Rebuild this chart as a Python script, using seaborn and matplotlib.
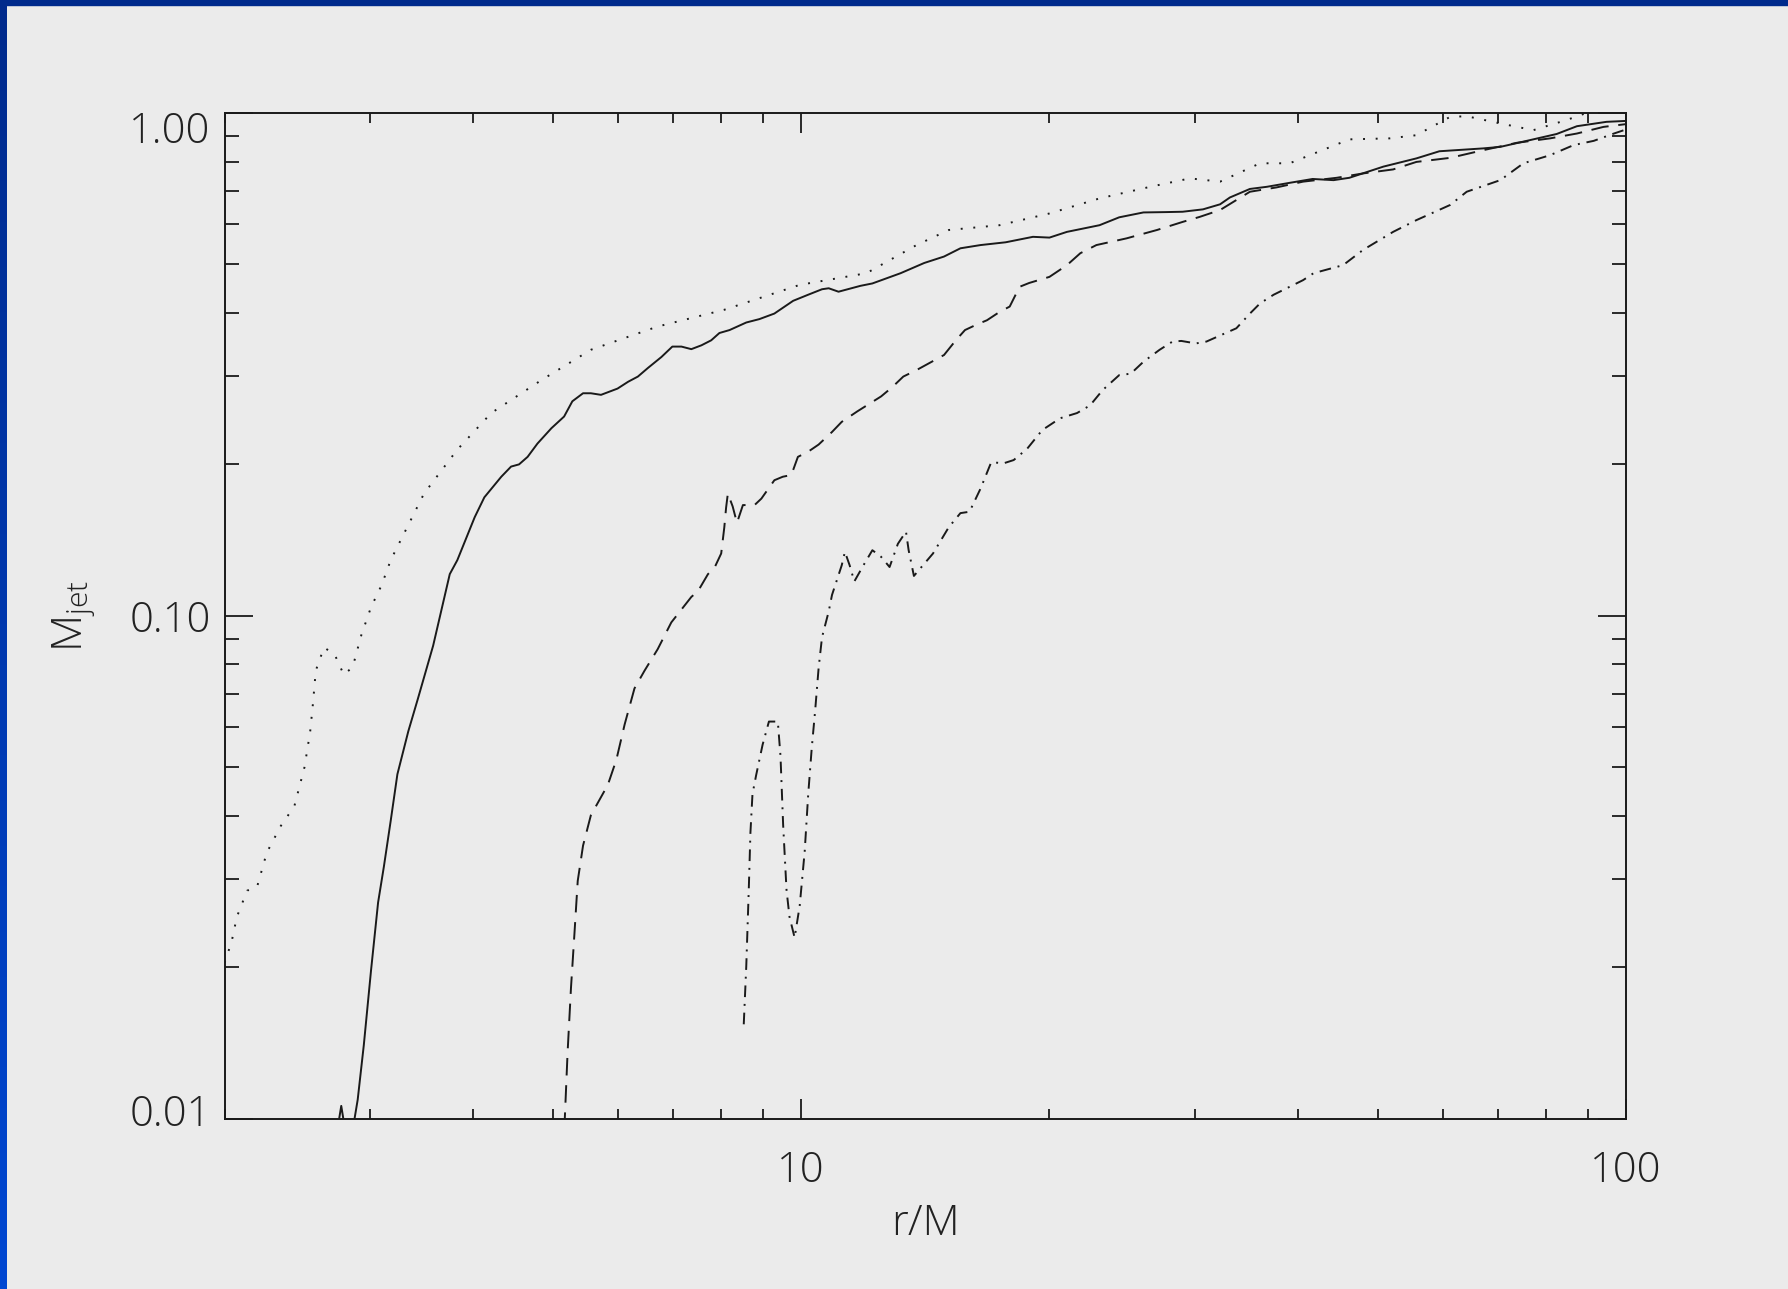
import numpy as np
import pandas as pd
import matplotlib
matplotlib.use("Agg")
import matplotlib.pyplot as plt
import seaborn as sns
from matplotlib.ticker import FixedLocator, FixedFormatter, NullFormatter
from matplotlib.colors import LinearSegmentedColormap
from matplotlib.patches import Rectangle
from matplotlib.transforms import ScaledTranslation

# Data (r/M, M_jet)
# solid curve
r_sol = [2.74, 2.77, 2.80, 2.86, 2.90, 2.95, 3.01, 3.07, 3.12, 3.18, 3.24, 3.34, 3.43, 3.58,
         3.75, 3.83, 4.02, 4.13, 4.33, 4.45, 4.55, 4.66, 4.79, 4.98, 5.16, 5.28, 5.44, 5.56,
         5.72, 5.99, 6.17, 6.34, 6.52, 6.77, 6.98, 7.16, 7.36, 7.57, 7.78, 7.96, 8.19, 8.58,
         8.90, 9.28, 9.78, 10.2, 10.6, 10.8, 11.1, 11.8, 12.2, 13.2, 14.1, 14.9, 15.6, 16.5,
         17.7, 19.1, 20.0, 21.0, 23.0, 24.3, 26.0, 27.7, 29.0, 30.7, 32.2, 33.1, 35.0, 36.7,
         39.1, 41.7, 44.2, 46.2, 50.8, 55.7, 59.4, 67.1, 70.4, 77.2, 82.4, 87.2, 94.7, 100]
m_sol = [0.0095, 0.0106, 0.0095, 0.0095, 0.0109, 0.0140, 0.0197, 0.0269, 0.0317, 0.0391,
         0.0484, 0.0589, 0.0683, 0.0872, 0.121, 0.129, 0.157, 0.172, 0.189, 0.198, 0.200,
         0.207, 0.220, 0.236, 0.249, 0.267, 0.277, 0.277, 0.275, 0.283, 0.292, 0.299, 0.311,
         0.327, 0.343, 0.343, 0.339, 0.345, 0.353, 0.365, 0.370, 0.383, 0.389, 0.399, 0.423,
         0.435, 0.446, 0.448, 0.441, 0.453, 0.458, 0.480, 0.503, 0.518, 0.538, 0.546, 0.553,
         0.567, 0.565, 0.580, 0.598, 0.620, 0.634, 0.635, 0.636, 0.643, 0.658, 0.679, 0.706,
         0.713, 0.726, 0.739, 0.735, 0.743, 0.782, 0.812, 0.839, 0.850, 0.856, 0.886, 0.908,
         0.941, 0.960, 0.964]

# dotted curve
r_dot = [2.00, 2.04, 2.07, 2.13, 2.19, 2.25, 2.34, 2.43, 2.50, 2.54, 2.56, 2.58, 2.64, 2.72,
         2.79, 2.86, 2.93, 3.01, 3.10, 3.18, 3.49, 3.83, 4.21, 4.84, 5.56, 6.70, 8.07, 9.96,
         12.0, 13.8, 15.1, 17.4, 20.0, 23.0, 26.5, 29.6, 32.2, 36.0, 39.1, 46.2, 51.7, 55.7,
         61.2, 64.1, 70.4, 77.2, 84.7, 89.6, 100]
m_dot = [0.0204, 0.0225, 0.0252, 0.0284, 0.0289, 0.0338, 0.0382, 0.0418, 0.050, 0.0589,
         0.0671, 0.0778, 0.0865, 0.0837, 0.0763, 0.0791, 0.0916, 0.104, 0.115, 0.129, 0.175,
         0.214, 0.253, 0.294, 0.338, 0.376, 0.406, 0.455, 0.480, 0.546, 0.585, 0.598, 0.631,
         0.676, 0.713, 0.741, 0.730, 0.794, 0.794, 0.886, 0.890, 0.903, 0.982, 0.985, 0.953,
         0.924, 0.968, 1.00, 1.03]

# dashed curve
r_dash = [5.15, 5.17, 5.21, 5.26, 5.31, 5.36, 5.44, 5.56, 5.83, 5.97, 6.11, 6.28, 6.46, 6.70,
          6.96, 7.36, 7.50, 7.71, 7.85, 8.00, 8.07, 8.11, 8.15, 8.26, 8.36, 8.50, 8.78, 8.95,
          9.28, 9.50, 9.73, 9.91, 10.2, 10.5, 10.9, 11.2, 11.7, 12.5, 12.9, 13.3, 13.8, 14.3,
          14.9, 15.4, 15.8, 16.3, 16.8, 17.4, 17.9, 18.4, 18.9, 20.0, 21.0, 21.8, 22.8, 24.8,
          27.0, 29.0, 30.4, 32.2, 33.7, 35.0, 37.7, 40.6, 44.6, 48.0, 52.2, 55.7, 61.2, 67.1,
          73.7, 80.9, 87.2, 93.9, 100]
m_dash = [0.0095, 0.0100, 0.0135, 0.0182, 0.0232, 0.0297, 0.0349, 0.0401, 0.0461, 0.0517,
          0.0608, 0.0717, 0.0778, 0.0858, 0.097, 0.109, 0.112, 0.121, 0.1245, 0.133, 0.150,
          0.164, 0.175, 0.165, 0.153, 0.166, 0.166, 0.171, 0.186, 0.189, 0.1905, 0.207, 0.212,
          0.219, 0.232, 0.243, 0.255, 0.273, 0.285, 0.299, 0.308, 0.318, 0.330, 0.353, 0.370,
          0.379, 0.387, 0.402, 0.412, 0.451, 0.459, 0.472, 0.498, 0.526, 0.546, 0.563, 0.585,
          0.607, 0.621, 0.641, 0.671, 0.697, 0.711, 0.730, 0.743, 0.758, 0.772, 0.799, 0.814,
          0.843, 0.872, 0.890, 0.910, 0.938, 0.950]

# dash-dot curve
r_dd = [8.52, 8.58, 8.64, 8.68, 8.73, 8.82, 8.98, 9.14, 9.37, 9.44, 9.51, 9.60, 9.68, 9.82,
        9.96, 10.1, 10.2, 10.3, 10.4, 10.5, 10.6, 10.8, 10.9, 11.2, 11.3, 11.45, 11.6, 11.9,
        12.2, 12.5, 12.8, 13.1, 13.4, 13.5, 13.7, 14.05, 14.45, 15.1, 15.6, 16.0, 16.5, 17.0,
        17.6, 18.1, 18.8, 19.6, 20.6, 21.6, 22.4, 23.2, 24.3, 25.1, 26.0, 27.2, 28.2, 28.9,
        30.1, 31.0, 33.7, 35.0, 36.0, 37.4, 40.6, 41.8, 45.4, 48.0, 52.2, 55.7, 61.2, 64.1,
        70.4, 75.1, 80.9, 86.4, 91.4, 96.7, 100]
m_dd = [0.0154, 0.0201, 0.0285, 0.0370, 0.0442, 0.0482, 0.0554, 0.0616, 0.0616, 0.0526,
        0.0384, 0.0285, 0.0252, 0.0229, 0.0265, 0.0340, 0.0442, 0.0545, 0.0649, 0.0787,
        0.0906, 0.102, 0.110, 0.126, 0.134, 0.126, 0.117, 0.126, 0.135, 0.131, 0.125, 0.139,
        0.147, 0.135, 0.120, 0.126, 0.133, 0.150, 0.160, 0.161, 0.179, 0.202, 0.201, 0.204,
        0.215, 0.234, 0.247, 0.253, 0.262, 0.281, 0.301, 0.303, 0.320, 0.338, 0.351, 0.352,
        0.348, 0.351, 0.373, 0.399, 0.418, 0.435, 0.465, 0.480, 0.498, 0.534, 0.580, 0.612,
        0.656, 0.697, 0.735, 0.794, 0.824, 0.863, 0.880, 0.910, 0.927]

# Axis ticks
x_major = [10, 100]
x_major_labels = ["10", "100"]
x_minor = [2, 3, 4, 5, 6, 7, 8, 9, 20, 30, 40, 50, 60, 70, 80, 90]
y_major = [0.01, 0.1, 1.0]
y_major_labels = ["0.01", "0.10", "1.00"]
y_minor = [0.02, 0.03, 0.04, 0.05, 0.06, 0.07, 0.08, 0.09,
           0.2, 0.3, 0.4, 0.5, 0.6, 0.7, 0.8, 0.9]

# Style
sns.set_style("ticks")
plt.rcParams['font.family'] = ['Open Sans', 'DejaVu Sans']
plt.rcParams['font.weight'] = 'light'
plt.rcParams['axes.labelweight'] = 'light'
plt.rcParams['mathtext.default'] = 'regular'

bg = '#ebebeb'
ink = '#1a1a1a'
txt = '#222222'

fig = plt.figure(figsize=(17.88, 12.89), dpi=100, facecolor=bg)

# blue frame on left and top
strip = fig.add_axes([0, 0, 7 / 1788, 1])
grad = np.linspace(0, 1, 256).reshape(-1, 1)
cmap = LinearSegmentedColormap.from_list('frame', ['#0047d2', '#002a8c'])
strip.imshow(grad, aspect='auto', cmap=cmap, origin='lower')
strip.axis('off')
fig.add_artist(Rectangle((0, 1 - 5 / 1289), 1, 5 / 1289,
                         transform=fig.transFigure, color='#002a8c'))

ax = fig.add_axes([0.1256, 0.1322, 0.7838, 0.7802])
ax.set_facecolor(bg)
ax.set_xscale('log')
ax.set_yscale('log')

curves = [
    (r_sol, m_sol, '-'),
    (r_dot, m_dot, (0, (1, 5.5))),
    (r_dash, m_dash, (0, (9, 5))),
    (r_dd, m_dd, (0, (6, 3.5, 1, 3.5))),
]
for r, m, ls in curves:
    sns.lineplot(x=r, y=m, ax=ax, color=ink, lw=1.4, linestyle=ls,
                 sort=False, estimator=None, errorbar=None, legend=False)

ax.set_xlim(2, 100)
ax.set_ylim(0.01, 1.0)

ax.xaxis.set_major_locator(FixedLocator(x_major))
ax.xaxis.set_major_formatter(FixedFormatter(x_major_labels))
ax.xaxis.set_minor_locator(FixedLocator(x_minor))
ax.xaxis.set_minor_formatter(NullFormatter())
ax.yaxis.set_major_locator(FixedLocator(y_major))
ax.yaxis.set_major_formatter(FixedFormatter(y_major_labels))
ax.yaxis.set_minor_locator(FixedLocator(y_minor))
ax.yaxis.set_minor_formatter(NullFormatter())

ax.tick_params(axis='x', which='major', direction='in', length=14.5, width=1.3,
               top=True, bottom=True, pad=22, labelsize=30, labelcolor=txt, color=ink)
ax.tick_params(axis='x', which='minor', direction='in', length=7.2, width=1.3,
               top=True, bottom=True, color=ink)
ax.tick_params(axis='y', which='major', direction='in', length=20.2, width=1.3,
               left=True, right=True, pad=10, labelsize=30, labelcolor=txt, color=ink)
ax.tick_params(axis='y', which='minor', direction='in', length=10.1, width=1.3,
               left=True, right=True, color=ink)

# IDL-style placement: top label sits a little lower, bottom one a little higher
fig.canvas.draw()
ylabels = ax.yaxis.get_majorticklabels()
ylabels[0].set_transform(ylabels[0].get_transform() + ScaledTranslation(0, 0.09, fig.dpi_scale_trans))
ylabels[-1].set_transform(ylabels[-1].get_transform() + ScaledTranslation(0, -0.14, fig.dpi_scale_trans))

for s in ax.spines.values():
    s.set_linewidth(1.4)
    s.set_color(ink)

ax.set_xlabel('r/M', fontsize=31, color=txt)
ax.xaxis.set_label_coords(0.5, -0.083)
ax.set_ylabel('M$_{jet}$', fontsize=31, color=txt)
ax.yaxis.set_label_coords(-0.090, 0.5)

fig.savefig('out.png', dpi=100, facecolor=bg)
